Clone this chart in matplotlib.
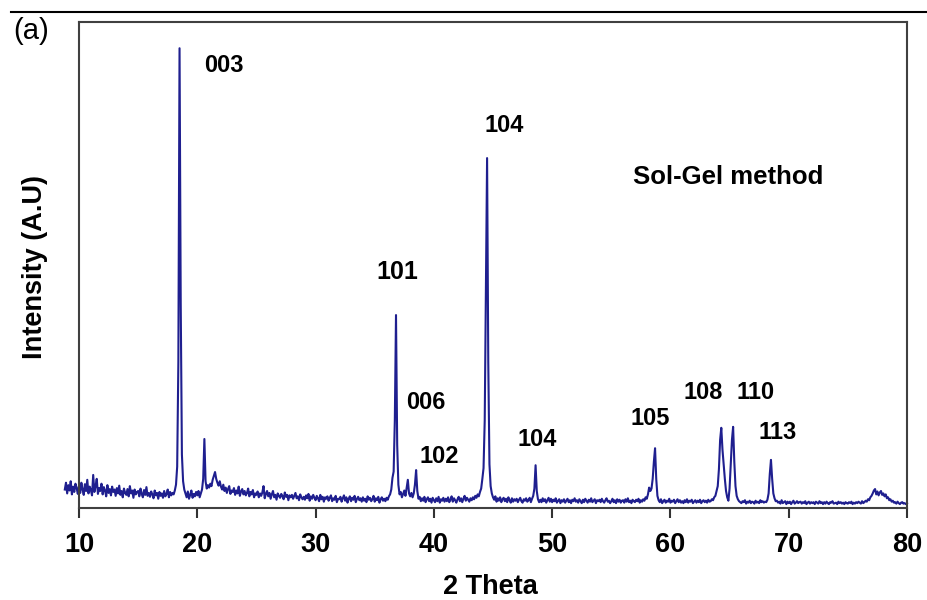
import numpy as np
import matplotlib.pyplot as plt
from matplotlib.lines import Line2D

plt.rcParams['font.family'] = ['Liberation Sans', 'DejaVu Sans']

# XRD trace on a 0.1 deg step starting at 8.8 deg
# (one row per degree, intensity in per-mille of the axis height)
intensity_rows = [
    [38, 52],                                       # 8.8
    [30, 47, 36, 55, 28, 44, 33, 50, 41, 29],      # 9
    [46, 31, 52, 38, 27, 49, 35, 58, 30, 44],      # 10
    [37, 26, 68, 33, 45, 60, 29, 41, 35, 50],      # 11
    [28, 43, 36, 24, 47, 31, 39, 26, 44, 33],      # 12
    [38, 25, 41, 30, 46, 27, 35, 22, 40, 31],      # 13
    [27, 39, 24, 45, 30, 36, 21, 38, 28, 33],      # 14
    [35, 24, 40, 29, 22, 37, 27, 43, 25, 31],      # 15
    [23, 34, 28, 20, 36, 26, 31, 19, 33, 25],      # 16
    [30, 21, 35, 24, 29, 38, 22, 33, 26, 31],      # 17
    [28, 36, 48, 85, 300, 946, 420, 110, 55, 38],  # 18
    [30, 22, 34, 19, 27, 36, 21, 29, 24, 33],      # 19
    [26, 35, 22, 30, 38, 60, 142, 55, 40, 47],     # 20
    [42, 50, 45, 58, 66, 74, 60, 52, 46, 55],      # 21
    [44, 38, 48, 35, 42, 31, 39, 45, 29, 36],      # 22
    [33, 41, 27, 36, 30, 44, 25, 34, 39, 28],      # 23
    [35, 26, 31, 40, 24, 33, 28, 37, 22, 30],      # 24
    [27, 34, 22, 30, 25, 32, 45, 20, 29, 35],      # 25
    [24, 31, 19, 28, 35, 22, 27, 17, 30, 25],      # 26
    [21, 29, 24, 18, 32, 23, 27, 16, 26, 22],      # 27
    [27, 19, 25, 31, 20, 24, 16, 28, 22, 18],      # 28
    [23, 17, 26, 20, 29, 15, 24, 19, 27, 21],      # 29
    [16, 25, 20, 14, 27, 18, 23, 13, 22, 19],      # 30
    [24, 15, 21, 26, 14, 20, 17, 25, 12, 19],      # 31
    [18, 23, 13, 20, 26, 15, 22, 11, 19, 24],      # 32
    [14, 21, 17, 25, 12, 19, 23, 16, 20, 13],      # 33
    [22, 15, 19, 12, 24, 17, 21, 14, 18, 25],      # 34
    [13, 20, 16, 23, 11, 18, 22, 15, 19, 14],      # 35
    [21, 17, 24, 28, 38, 62, 75, 180, 397, 130],   # 36
    [48, 28, 33, 22, 29, 36, 25, 42, 58, 30],      # 37
    [24, 31, 22, 30, 48, 78, 35, 19, 23, 14],      # 38
    [20, 15, 23, 12, 18, 22, 14, 19, 11, 21],      # 39
    [16, 12, 20, 14, 23, 11, 18, 15, 21, 13],      # 40
    [19, 14, 22, 12, 17, 24, 13, 20, 16, 11],      # 41
    [18, 23, 14, 20, 12, 19, 25, 15, 21, 17],      # 42
    [13, 20, 16, 22, 18, 25, 21, 28, 24, 33],      # 43
    [40, 60, 82, 180, 450, 720, 300, 90, 45, 30],  # 44
    [22, 17, 24, 13, 20, 15, 22, 12, 18, 21],      # 45
    [14, 19, 12, 22, 16, 11, 20, 13, 18, 15],      # 46
    [19, 12, 17, 21, 14, 11, 18, 15, 20, 13],      # 47
    [16, 21, 12, 19, 25, 40, 88, 35, 18, 12],      # 48
    [17, 12, 20, 14, 18, 11, 16, 21, 13, 19],      # 49
    [12, 17, 14, 20, 11, 15, 18, 10, 16, 13],      # 50
    [18, 11, 15, 19, 12, 16, 10, 17, 14, 20],      # 51
    [13, 16, 11, 18, 14, 10, 17, 12, 19, 15],      # 52
    [11, 17, 13, 20, 12, 15, 18, 10, 16, 14],      # 53
    [17, 12, 19, 14, 11, 16, 20, 13, 15, 10],      # 54
    [14, 19, 12, 16, 10, 18, 13, 17, 11, 15],      # 55
    [16, 11, 18, 13, 20, 12, 15, 10, 17, 14],      # 56
    [12, 17, 14, 19, 11, 16, 13, 18, 15, 22],      # 57
    [19, 28, 42, 35, 40, 60, 95, 123, 60, 25],     # 58
    [16, 12, 18, 10, 14, 17, 11, 15, 13, 19],      # 59
    [11, 15, 13, 17, 10, 14, 18, 12, 16, 11],      # 60
    [14, 10, 16, 12, 18, 11, 15, 13, 17, 10],      # 61
    [13, 16, 11, 15, 12, 17, 10, 14, 16, 12],      # 62
    [15, 11, 17, 13, 14, 18, 16, 22, 25, 35],      # 63
    [45, 80, 140, 165, 120, 90, 60, 35, 22, 15],   # 64
    [40, 90, 140, 167, 95, 45, 25, 18, 14, 12],    # 65
    [10, 14, 12, 16, 9, 13, 11, 15, 10, 13],       # 66
    [12, 9, 15, 11, 13, 10, 16, 12, 14, 11],       # 67
    [13, 12, 17, 30, 70, 99, 60, 30, 20, 14],      # 68
    [15, 11, 13, 9, 16, 10, 12, 14, 8, 13],        # 69
    [10, 13, 8, 12, 15, 9, 11, 14, 10, 12],        # 70
    [13, 9, 12, 10, 14, 8, 11, 13, 9, 12],         # 71
    [10, 12, 8, 13, 11, 9, 14, 10, 12, 8],         # 72
    [12, 9, 13, 10, 8, 12, 11, 14, 9, 10],         # 73
    [11, 8, 13, 10, 12, 9, 11, 8, 12, 10],         # 74
    [9, 12, 10, 13, 8, 11, 9, 12, 10, 13],         # 75
    [11, 9, 14, 10, 12, 15, 13, 18, 16, 22],       # 76
    [25, 30, 36, 39, 28, 34, 26, 32, 35, 27],      # 77
    [30, 24, 28, 20, 22, 16, 18, 13, 15, 11],      # 78
    [12, 9, 13, 10, 8, 11, 12, 9, 10, 8],          # 79
    [10],                                           # 80
]
intensity = [v for row in intensity_rows for v in row]
two_theta = np.round(8.8 + 0.1 * np.arange(len(intensity)), 1)

# peak labels (Miller indices)
peak_labels = ["003", "104", "101", "006", "102", "104", "105", "108", "110", "113"]
label_x = [22.26, 45.93, 36.88, 39.33, 40.43, 48.72, 58.27, 62.75, 67.23, 69.09]
label_y = [911, 788, 486, 218, 105, 140, 185, 237, 237, 156]
label_size = [17, 17, 18, 17, 17, 17, 17, 17, 17, 17]

fig = plt.figure(figsize=(9.28, 6), dpi=100)
ax = fig.add_axes([79/928, 92/600, 828/928, 486/600])

ax.plot(two_theta, intensity, color='#1f1f8f', lw=1.5, clip_on=False)
ax.set_xlim(10, 80)
ax.set_ylim(0, 1000)
ax.set_xticks(range(10, 81, 10))
ax.set_yticks([])
ax.tick_params(axis='x', direction='out', length=7, width=1.5, pad=10,
               labelsize=19.5, color='#333333')
for lab in ax.get_xticklabels():
    lab.set_fontweight('bold')
for s in ax.spines.values():
    s.set_linewidth(1.5)
    s.set_color('#404040')

for t, x, y, fs in zip(peak_labels, label_x, label_y, label_size):
    ax.text(x, y, t, ha='center', va='center', fontsize=fs, fontweight='bold')
ax.text(64.9, 681, "Sol-Gel method", ha='center', va='center',
        fontsize=18.5, fontweight='bold')

fig.text(35/928, 0.555, "Intensity (A.U)", rotation=90, ha='center', va='center',
         fontsize=19.5, fontweight='bold')
fig.text(490/928, 6/600, "2 Theta", ha='center', va='baseline',
         fontsize=19.5, fontweight='bold')
fig.text(31/928, 1 - 31/600, "(a)", ha='center', va='center', fontsize=21)

# separator rule across the top of the figure
fig.add_artist(Line2D([11/928, 1], [1 - 12/600, 1 - 12/600],
                      transform=fig.transFigure, color='black', lw=1.5))

fig.savefig('out.png', dpi=100)
